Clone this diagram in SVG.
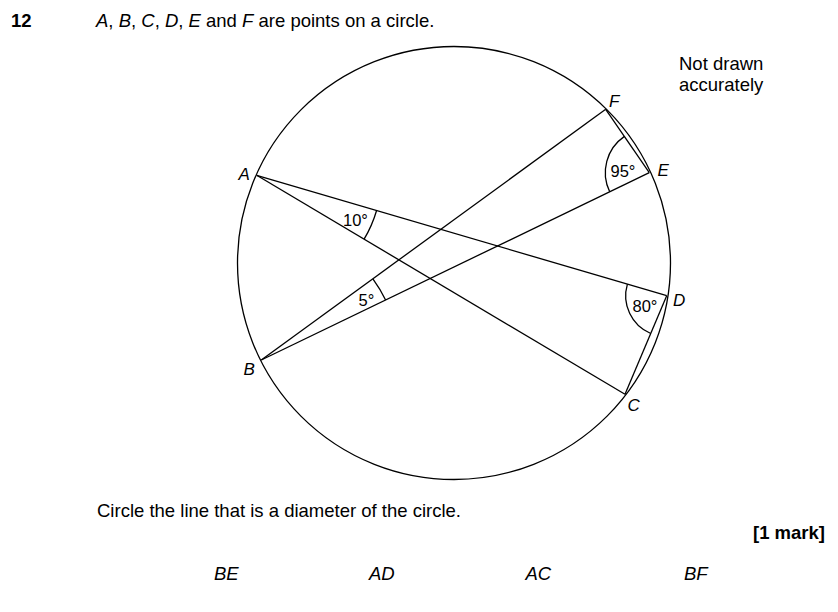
<svg xmlns="http://www.w3.org/2000/svg" width="838" height="612" viewBox="0 0 838 612">
<style>
text{font-family:"Liberation Sans",Arial,sans-serif;fill:#000}
.t{font-size:18.5px}
.b{font-weight:bold}
.i{font-style:italic}
.l{font-size:17px;font-style:italic}
.a{font-size:16.5px}
.s{fill:none;stroke:#000;stroke-width:1.3}
</style>
<rect width="838" height="612" fill="#fff"/>
<text x="11" y="27" class="t b">12</text>
<text x="96" y="27" class="t"><tspan class="i">A</tspan>, <tspan class="i">B</tspan>, <tspan class="i">C</tspan>, <tspan class="i">D</tspan>, <tspan class="i">E</tspan> and <tspan class="i">F</tspan> are points on a circle.</text>
<text x="679" y="70" class="t">Not drawn</text>
<text x="679" y="91" class="t">accurately</text>
<g id="circle"><circle cx="454" cy="263" r="216.5" class="s"/></g>
<g id="connectors" class="s">
<line x1="256.7" y1="175.3" x2="625" y2="394.3"/>
<line x1="256.7" y1="175.3" x2="666.7" y2="295.7"/>
<line x1="261.3" y1="360" x2="605.7" y2="109.3"/>
<line x1="261.3" y1="360" x2="649.3" y2="172.7"/>
<line x1="605.7" y1="109.3" x2="649.3" y2="172.7"/>
<line x1="666.7" y1="295.7" x2="625" y2="394.3"/>
<path d="M364.1 239.2 A125 125 0 0 0 376.6 210.5"/>
<path d="M372.9 278.8 A138 138 0 0 1 385.6 300"/>
<path d="M624.4 136.4 A44 44 0 0 0 609.7 191.8"/>
<path d="M627.4 284.1 A41 41 0 0 0 650.7 333.5"/>
</g>
<g id="A"><text x="238.5" y="179.5" class="l">A</text></g>
<g id="B"><text x="243.5" y="374.5" class="l">B</text></g>
<g id="C"><text x="627.5" y="410.5" class="l">C</text></g>
<g id="D"><text x="673" y="306" class="l">D</text></g>
<g id="E"><text x="657.5" y="175.5" class="l">E</text></g>
<g id="F"><text x="609" y="107" class="l">F</text></g>
<g id="angles">
<text x="343" y="226" class="a">10°</text>
<text x="358.5" y="305.5" class="a">5°</text>
<text x="610.5" y="177" class="a">95°</text>
<text x="632.5" y="312" class="a">80°</text>
</g>
<text x="97" y="517" class="t">Circle the line that is a diameter of the circle.</text>
<text x="825" y="539" class="t b" text-anchor="end">[1 mark]</text>
<g id="options" class="t i">
<text x="214" y="579.5">BE</text>
<text x="369" y="579.5">AD</text>
<text x="525.5" y="579.5">AC</text>
<text x="684" y="579.5">BF</text>
</g>
</svg>
